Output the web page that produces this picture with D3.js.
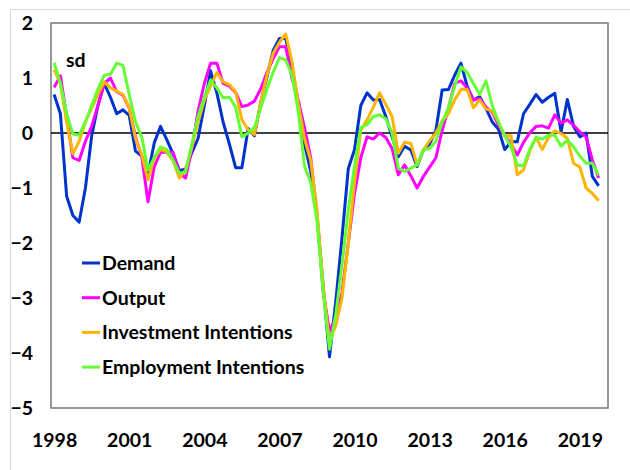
<!DOCTYPE html>
<html>
<head>
<meta charset="utf-8">
<script src="https://cdn.jsdelivr.net/npm/d3@7"></script>
<style>
  body { margin: 0; background: #fff; }
  text { font-family: Lato, "Liberation Sans", sans-serif; font-weight: bold; fill: #000; }
</style>
</head>
<body>
<div id="chart-section"></div>
<script>
// quarterly, 1998Q1 .. 2019Q4
var demand = [0.7,0.35,-1.15,-1.5,-1.62,-1.0,-0.05,0.5,0.9,0.65,0.35,0.42,0.32,-0.33,-0.42,-0.75,-0.18,0.12,-0.12,-0.38,-0.68,-0.66,-0.36,-0.1,0.5,1.13,
  0.73,0.2,-0.2,-0.63,-0.63,0.08,-0.05,0.55,1.02,1.5,1.72,1.72,1.2,0.55,-0.2,-0.7,-1.5,-2.8,-4.07,-3.06,-1.9,-0.65,-0.3,0.5,0.73,0.6,0.61,0.3,-0.07,-0.43,
  -0.24,-0.31,-0.61,-0.31,-0.2,0.05,0.78,0.79,1.05,1.27,0.85,0.6,0.66,0.45,0.2,0.07,-0.3,-0.16,-0.16,0.35,0.52,0.7,0.56,0.65,0.72,0.02,0.61,0.12,-0.07,0.0,-0.79,-0.96];
var output = [0.83,1.04,0.3,-0.45,-0.5,-0.15,0.12,0.5,0.9,1.0,0.75,0.69,0.45,-0.07,-0.43,-1.25,-0.61,-0.35,-0.35,-0.35,-0.73,-0.82,-0.3,0.4,0.9,1.27,
  1.27,0.9,0.85,0.74,0.48,0.51,0.58,0.8,1.1,1.35,1.57,1.57,1.0,0.6,0.1,-0.45,-1.5,-2.9,-3.6,-3.35,-2.9,-2.0,-1.1,-0.45,-0.07,-0.11,0.0,-0.08,-0.28,-0.76,
  -0.58,-0.78,-1.0,-0.79,-0.62,-0.45,0.05,0.45,0.9,0.95,0.82,0.6,0.63,0.47,0.38,0.15,-0.05,-0.2,-0.4,-0.17,0.0,0.12,0.13,0.09,0.33,0.18,0.24,0.14,0.02,-0.07,-0.49,-0.82];
var investment = [1.15,0.9,0.2,-0.38,-0.15,0.2,0.45,0.7,0.93,0.82,0.76,0.7,0.45,-0.1,-0.4,-0.85,-0.45,-0.3,-0.35,-0.5,-0.82,-0.67,-0.25,0.2,0.6,0.85,
  1.1,0.93,0.88,0.75,0.24,0.06,-0.03,0.55,1.05,1.45,1.65,1.8,1.3,0.55,-0.1,-0.5,-1.4,-2.8,-3.8,-3.5,-3.0,-2.0,-0.9,0.05,0.24,0.47,0.73,0.52,0.3,-0.37,
  -0.17,-0.19,-0.58,-0.31,-0.14,0.0,0.22,0.35,0.6,0.79,0.79,0.46,0.6,0.44,0.4,0.2,-0.05,-0.05,-0.76,-0.67,-0.33,-0.08,-0.3,-0.08,0.04,-0.01,-0.1,-0.55,-0.62,-1.0,-1.1,-1.23];
var employment = [1.28,0.9,0.35,-0.02,-0.04,0.2,0.5,0.8,1.05,1.07,1.27,1.23,0.7,0.2,-0.07,-0.67,-0.45,-0.25,-0.3,-0.5,-0.73,-0.72,-0.2,0.3,0.65,0.96,
  0.82,0.64,0.65,0.47,-0.07,0.0,0.1,0.45,0.8,1.1,1.37,1.33,1.05,0.4,-0.6,-0.9,-1.6,-2.9,-3.93,-3.3,-2.4,-1.4,-0.6,0.1,0.15,0.3,0.33,0.26,0.0,-0.64,
  -0.7,-0.64,-0.58,-0.31,-0.28,-0.15,0.2,0.45,0.85,1.2,1.1,0.9,0.7,0.95,0.5,0.2,-0.05,-0.25,-0.58,-0.6,-0.3,-0.08,-0.11,-0.04,-0.04,-0.24,-0.13,-0.25,-0.42,-0.55,-0.55,-0.77];

var seriesNames = ["Demand", "Output", "Investment Intentions", "Employment Intentions"];
var seriesColors = ["#0033CC", "#FF00FF", "#FFB400", "#66FF33"];
var yTicks = [2, 1, 0, -1, -2, -3, -4, -5];
var xTicks = [1998, 2001, 2004, 2007, 2010, 2013, 2016, 2019];
var startYear = 1998;

var fontSize = "19.5px";

var margin = {top: 23, right: 22, bottom: 62, left: 51},
    width = 630 - margin.left - margin.right,
    height = 470 - margin.top - margin.bottom;

var svg = d3.select("#chart-section")
    .append("svg")
    .attr("width", 630)
    .attr("height", 470);

// outer chart-area border
svg.append("rect")
    .attr("x", 10.5).attr("y", 9.5)
    .attr("width", 630).attr("height", 470)
    .attr("fill", "none")
    .attr("stroke", "#d9d9d9");

var chart = svg.append("g")
    .attr("transform", "translate(" + margin.left + "," + margin.top + ")");

var xscale = d3.scaleLinear()
    .domain([1997.875, 2020.125])
    .range([0, width]);

var yscale = d3.scaleLinear()
    .domain([-5, 2])
    .range([height, 0]);

// plot frame
chart.append("rect")
    .attr("width", width)
    .attr("height", height)
    .attr("fill", "none")
    .attr("stroke", "#777")
    .attr("stroke-width", 1.5);

// y axis labels
var yAxis = chart.append("g")
    .call(d3.axisLeft(yscale).tickValues(yTicks).tickSize(0).tickPadding(18).tickFormat(d3.format("d")));
yAxis.select(".domain").remove();
yAxis.selectAll("text").style("font-size", fontSize).style("font-family", "Lato, sans-serif");

// x axis labels
var xAxis = chart.append("g")
    .attr("transform", "translate(0," + height + ")")
    .call(d3.axisBottom(xscale).tickValues(xTicks).tickSize(0).tickPadding(25).tickFormat(d3.format("d")));
xAxis.select(".domain").remove();
xAxis.selectAll("text").style("font-size", fontSize).style("font-family", "Lato, sans-serif");

// zero line
chart.append("line")
    .attr("x1", 0).attr("x2", width)
    .attr("y1", yscale(0)).attr("y2", yscale(0))
    .attr("stroke", "#000")
    .attr("stroke-width", 1.5);

var allSeries = [demand, output, investment, employment];
var line = d3.line()
    .x((d, i) => xscale(startYear + i / 4))
    .y(d => yscale(d));

allSeries.forEach(function(s, k) {
  chart.append("path")
    .datum(s)
    .attr("d", line)
    .attr("fill", "none")
    .attr("stroke", seriesColors[k])
    .attr("stroke-width", 3)
    .attr("stroke-linejoin", "round");
});

// "sd" label
chart.append("text")
    .attr("x", 15).attr("y", 44)
    .style("font-size", fontSize)
    .text("sd");

// legend
var legend = svg.append("g").attr("transform", "translate(82,263)");
seriesNames.forEach(function(name, k) {
  var g = legend.append("g").attr("transform", "translate(0," + (k * 34.7) + ")");
  g.append("line")
    .attr("x1", 0).attr("x2", 18)
    .attr("stroke", seriesColors[k])
    .attr("stroke-width", 3);
  g.append("text")
    .attr("x", 20).attr("y", 7)
    .style("font-size", fontSize)
    .text(name);
});
</script>
</body>
</html>
